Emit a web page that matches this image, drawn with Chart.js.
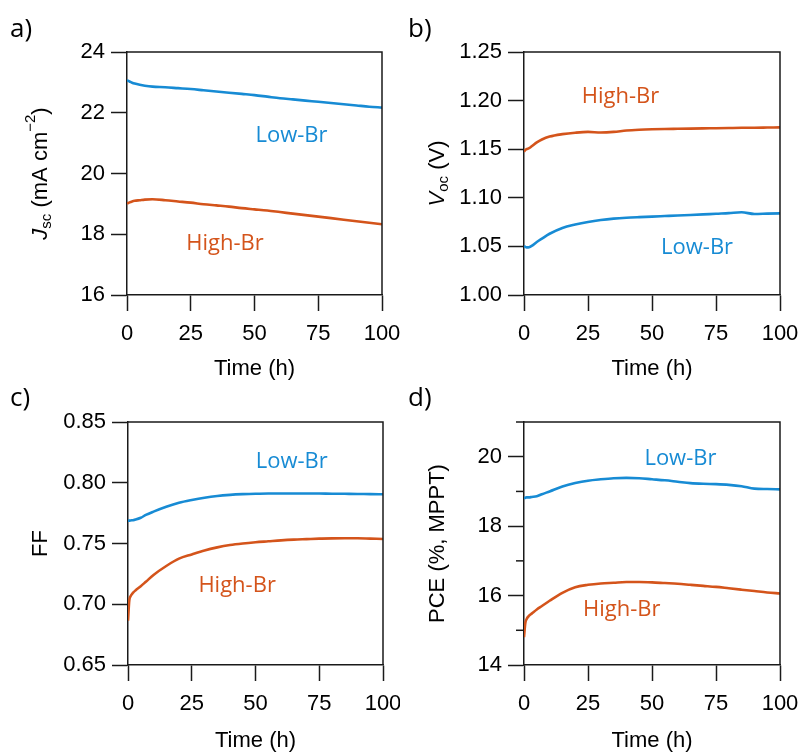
<!DOCTYPE html>
<html><head><meta charset="utf-8">
<script src="https://cdn.jsdelivr.net/npm/chart.js@4.4.1/dist/chart.umd.min.js"></script>
<style>
html,body{margin:0;padding:0;background:#fff;}
#wrap{position:relative;width:803px;height:754px;background:#fff;overflow:hidden;}
canvas{position:absolute;}
</style></head><body>
<div id="wrap">
<canvas id="cA" width="400" height="380" style="left:0;top:0"></canvas>
<canvas id="cB" width="403" height="380" style="left:400px;top:0"></canvas>
<canvas id="cC" width="400" height="374" style="left:0;top:380px"></canvas>
<canvas id="cD" width="403" height="374" style="left:400px;top:380px"></canvas>
</div>
<script>
// ---- data ----
const hours = [0,0.5,1,2,3,5,7,10,15,20,25,30,35,40,45,50,55,60,65,70,75,80,85,90,95,100];
const seriesNames = ['Low-Br','High-Br'];
const timeTicks = [0,25,50,75,100];

const jscLowBr  = [23.07,23.05,23.03,22.99,22.96,22.92,22.89,22.86,22.84,22.81,22.78,22.74,22.70,22.66,22.62,22.58,22.53,22.48,22.44,22.40,22.36,22.32,22.28,22.24,22.20,22.17];
const jscHighBr = [19.02,19.03,19.05,19.08,19.10,19.12,19.14,19.15,19.12,19.08,19.04,18.99,18.95,18.91,18.86,18.82,18.78,18.73,18.68,18.63,18.58,18.53,18.48,18.43,18.38,18.33];

const vocHighBr = [1.1475,1.149,1.150,1.151,1.153,1.157,1.160,1.163,1.1655,1.1670,1.1678,1.1672,1.1678,1.1692,1.1700,1.1705,1.1708,1.1710,1.1712,1.1714,1.1716,1.1718,1.1720,1.1721,1.1723,1.1725];
const vocLowBr  = [1.0504,1.0496,1.0490,1.0492,1.0505,1.0545,1.0580,1.0630,1.0690,1.0725,1.0752,1.0772,1.0786,1.0795,1.0801,1.0806,1.0812,1.0818,1.0823,1.0829,1.0836,1.0842,1.0851,1.0834,1.0837,1.0840];

const ffLowBr   = [0.7688,0.7688,0.7690,0.7692,0.7697,0.7712,0.7735,0.7762,0.7802,0.7835,0.7858,0.7877,0.7891,0.7900,0.7906,0.7910,0.7912,0.7912,0.7911,0.7912,0.7911,0.7910,0.7909,0.7908,0.7906,0.7905];
const ffHighBr  = [0.6865,0.7030,0.7065,0.7095,0.7115,0.7148,0.7185,0.7241,0.7315,0.7375,0.7410,0.7443,0.7468,0.7487,0.7500,0.7510,0.7518,0.7526,0.7532,0.7536,0.7540,0.7542,0.7543,0.7543,0.7540,0.7537];

const pceLowBr  = [18.80,18.82,18.83,18.83,18.84,18.86,18.92,19.00,19.14,19.24,19.31,19.35,19.38,19.39,19.38,19.35,19.32,19.28,19.24,19.22,19.21,19.19,19.15,19.08,19.07,19.06];
const pceHighBr = [14.80,15.20,15.32,15.42,15.48,15.60,15.70,15.85,16.08,16.24,16.31,16.35,16.37,16.39,16.39,16.38,16.36,16.34,16.31,16.28,16.25,16.21,16.17,16.13,16.09,16.06];

const jscTicks = [16,18,20,22,24];
const vocTicks = [1.00,1.05,1.10,1.15,1.20,1.25];
const ffTicks  = [0.65,0.70,0.75,0.80,0.85];
const pceMajorTicks = [14,16,18,20];
const pceMinorTicks = [15,17,19,21];

// ---- style ----
const BLUE = '#178bd4';
const ORANGE = '#d4541b';
const AXIS = '#1a1a1a';
Chart.defaults.font.family = '"Liberation Sans", Arial, sans-serif';
Chart.defaults.color = '#000';

const decor = {
  id: 'decor',
  afterDraw(chart, args, o) {
    const ctx = chart.ctx, a = chart.chartArea, xs = chart.scales.x, ys = chart.scales.y;
    ctx.save();
    ctx.strokeStyle = AXIS; ctx.lineWidth = 1.5;
    ctx.beginPath(); ctx.moveTo(a.left, a.top); ctx.lineTo(a.right, a.top); ctx.lineTo(a.right, a.bottom); ctx.stroke();
    (o.minor || []).forEach(v => {
      const y = ys.getPixelForValue(v);
      ctx.beginPath(); ctx.moveTo(a.left - 8, y); ctx.lineTo(a.left, y); ctx.stroke();
    });
    ctx.font = '22px "Open Sans"'; ctx.textAlign = 'center'; ctx.textBaseline = 'alphabetic';
    (o.notes || []).forEach(n => {
      ctx.fillStyle = n.color;
      ctx.fillText(n.text, xs.getPixelForValue(n.t), ys.getPixelForValue(n.v));
    });
    ctx.fillStyle = '#000'; ctx.textAlign = 'left'; ctx.font = '26px "Open Sans"';
    ctx.fillText(o.letter, o.letterX, o.letterY);
    if (o.rich) {
      const r = o.rich;
      ctx.translate(r.x, (a.top + a.bottom) / 2);
      ctx.rotate(-Math.PI / 2);
      ctx.textBaseline = 'middle'; ctx.textAlign = 'left'; ctx.fillStyle = '#000';
      let total = 0;
      r.segs.forEach(s => { ctx.font = s.font; s.w = ctx.measureText(s.text).width; total += s.w; });
      let x = -total / 2;
      r.segs.forEach(s => { ctx.font = s.font; ctx.fillText(s.text, x, s.dy); x += s.w; });
    }
    ctx.restore();
  }
};

function makeChart(id, cfg) {
  const ds = cfg.series.map(s => ({
    label: s.name,
    data: hours.map((h, i) => ({x: h, y: s.values[i]})),
    borderColor: s.color, borderWidth: 2.6, pointRadius: 0, fill: false,
    cubicInterpolationMode: 'monotone'
  }));
  return new Chart(document.getElementById(id), {
    type: 'line',
    data: {datasets: ds},
    options: {
      responsive: false, animation: false, devicePixelRatio: 1,
      layout: {padding: {left: 0, top: cfg.top, right: cfg.right, bottom: 0}},
      plugins: {legend: {display: false}, tooltip: {enabled: false}, decor: cfg.decor},
      scales: {
        x: {
          type: 'linear', min: 0, max: 100,
          afterBuildTicks: s => { s.ticks = timeTicks.map(v => ({value: v})); },
          ticks: {color: '#000', font: {size: 22}, padding: 10, maxRotation: 0, autoSkip: false},
          grid: {drawOnChartArea: false, tickLength: 16, tickColor: AXIS, tickWidth: 1.5},
          border: {color: AXIS, width: 1.5},
          title: {display: true, text: 'Time (h)', color: '#000', font: {size: 22, lineHeight: 1}, padding: {top: 0, bottom: cfg.xTitlePad}},
          afterFit: s => { s.height = cfg.xH; s.paddingLeft = 0; s.paddingRight = 0; }
        },
        y: {
          type: 'linear', min: cfg.ymin, max: cfg.ymax,
          afterBuildTicks: s => { s.ticks = cfg.yTicks.map(v => ({value: v})); },
          ticks: {color: '#000', font: {size: 22}, padding: 6, autoSkip: false, callback: cfg.yFmt},
          grid: {drawOnChartArea: false, tickLength: 16, tickColor: AXIS, tickWidth: 1.5},
          border: {color: AXIS, width: 1.5},
          title: cfg.yTitle ? {display: true, text: cfg.yTitle, color: '#000', font: {size: 22, lineHeight: 1}, padding: {top: cfg.yTitlePad, bottom: 0}} : {display: false},
          afterFit: s => { s.width = cfg.yW; s.paddingTop = 0; s.paddingBottom = 0; }
        }
      }
    },
    plugins: [decor]
  });
}

const italic = 'italic 22px "Liberation Sans"';
const reg = '22px "Liberation Sans"';
const small = '15px "Liberation Sans"';

makeChart('cA', {
  series: [{name: seriesNames[0], values: jscLowBr, color: BLUE}, {name: seriesNames[1], values: jscHighBr, color: ORANGE}],
  ymin: 16, ymax: 24, yTicks: jscTicks, yFmt: v => String(v),
  top: 52, right: 18, xH: 85, yW: 127, xTitlePad: 0,
  decor: {letter: 'a)', letterX: 10, letterY: 37,
    notes: [{text: seriesNames[0], color: BLUE, t: 64.5, v: 21.04}, {text: seriesNames[1], color: ORANGE, t: 38.4, v: 17.47}],
    rich: {x: 41, segs: [{text: 'J', font: italic, dy: 0}, {text: 'sc', font: small, dy: 6}, {text: ' (mA cm', font: reg, dy: 0}, {text: '\u22122', font: small, dy: -10}, {text: ')', font: reg, dy: 0}]}}
});

makeChart('cB', {
  series: [{name: seriesNames[0], values: vocLowBr, color: BLUE}, {name: seriesNames[1], values: vocHighBr, color: ORANGE}],
  ymin: 1.0, ymax: 1.25, yTicks: vocTicks, yFmt: v => Number(v).toFixed(2),
  top: 52, right: 23, xH: 85, yW: 124, xTitlePad: 0,
  decor: {letter: 'b)', letterX: 8, letterY: 37,
    notes: [{text: seriesNames[1], color: ORANGE, t: 37.7, v: 1.198}, {text: seriesNames[0], color: BLUE, t: 67.6, v: 1.042}],
    rich: {x: 38, segs: [{text: 'V', font: italic, dy: 0}, {text: 'oc', font: small, dy: 6}, {text: ' (V)', font: reg, dy: 0}]}}
});

makeChart('cC', {
  series: [{name: seriesNames[0], values: ffLowBr, color: BLUE}, {name: seriesNames[1], values: ffHighBr, color: ORANGE}],
  ymin: 0.65, ymax: 0.85, yTicks: ffTicks, yFmt: v => Number(v).toFixed(2),
  top: 42, right: 17, xH: 89, yW: 128, xTitlePad: 2, yTitle: 'FF', yTitlePad: 30,
  decor: {letter: 'c)', letterX: 10, letterY: 26,
    notes: [{text: seriesNames[0], color: BLUE, t: 64.2, v: 0.812}, {text: seriesNames[1], color: ORANGE, t: 42.8, v: 0.710}]}
});

makeChart('cD', {
  series: [{name: seriesNames[0], values: pceLowBr, color: BLUE}, {name: seriesNames[1], values: pceHighBr, color: ORANGE}],
  ymin: 14, ymax: 21, yTicks: pceMajorTicks, yFmt: v => String(v),
  top: 42, right: 23, xH: 89, yW: 124, xTitlePad: 2, yTitle: 'PCE (%, MPPT)', yTitlePad: 27,
  decor: {letter: 'd)', letterX: 8, letterY: 26, minor: pceMinorTicks,
    notes: [{text: seriesNames[0], color: BLUE, t: 61.1, v: 19.76}, {text: seriesNames[1], color: ORANGE, t: 38.2, v: 15.41}]}
});
</script>
</body></html>
